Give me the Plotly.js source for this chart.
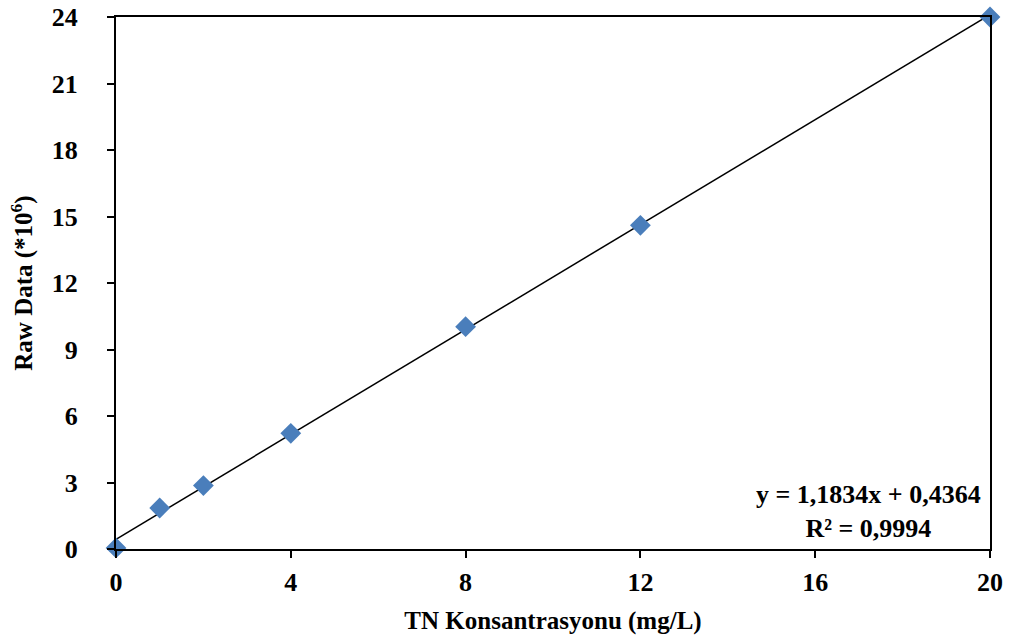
<!DOCTYPE html>
<html>
<head>
<meta charset="utf-8">
<script src="https://cdn.plot.ly/plotly-3.0.1.min.js"></script>
<style>html,body{margin:0;padding:0;background:#fff;}#chart{width:1011px;height:637px;}</style>
</head>
<body>
<div id="chart"></div>
<script>
// Data
const concentration = [0, 1, 2, 4, 8, 12, 20];
const rawData = [0.05, 1.85, 2.86, 5.22, 10.03, 14.6, 24.0];
// Linear trendline endpoints (y = 1,1834x + 0,4364)
const trendX = [0, 20];
const trendY = [0.4364, 24.1044];
const xTicks = [0, 4, 8, 12, 16, 20];
const yTicks = [0, 3, 6, 9, 12, 15, 18, 21, 24];
const equationText = "y = 1,1834x + 0,4364<br>R² = 0,9994";

const font = {family: "Liberation Serif, Times New Roman, serif", color: "#000"};
const f = (s) => Object.assign({size: s, weight: "bold"}, font);

const traces = [
  {
    x: trendX, y: trendY, mode: "lines", type: "scatter",
    line: {color: "#000", width: 1.5}, hoverinfo: "skip", showlegend: false
  },
  {
    x: concentration, y: rawData, mode: "markers", type: "scatter",
    marker: {symbol: "diamond", size: 16, color: "#4A7EBB"},
    cliponaxis: false, showlegend: false
  }
];

const layout = {
  width: 1011, height: 637,
  margin: {l: 116, r: 21, t: 17, b: 88},
  paper_bgcolor: "#fff", plot_bgcolor: "#fff",
  font: f(26),
  showlegend: false,
  xaxis: {
    range: [0, 20], tickvals: xTicks, ticktext: xTicks.map(String),
    ticks: "outside", ticklen: 7, tickwidth: 2, tickcolor: "#000",
    ticklabelstandoff: 2,
    showline: true, linewidth: 2, linecolor: "#000", mirror: true,
    showgrid: false, zeroline: false,
    tickfont: f(26),
    title: {text: "TN Konsantrasyonu (mg/L)", font: f(25), standoff: 15}
  },
  yaxis: {
    range: [0, 24], tickvals: yTicks, ticktext: yTicks.map(String),
    ticks: "outside", ticklen: 7, tickwidth: 2, tickcolor: "#000",
    ticklabelstandoff: 24,
    showline: true, linewidth: 2, linecolor: "#000", mirror: true,
    showgrid: false, zeroline: false,
    tickfont: f(26),
    title: {text: "Raw Data (*10<sup>6</sup>)", font: f(25), standoff: 12}
  },
  annotations: [{
    xref: "paper", yref: "paper", x: 0.992, y: 0.008,
    xanchor: "right", yanchor: "bottom", align: "center",
    text: equationText, showarrow: false,
    font: f(26)
  }]
};

Plotly.newPlot("chart", traces, layout, {displayModeBar: false, staticPlot: true});
</script>
</body>
</html>
